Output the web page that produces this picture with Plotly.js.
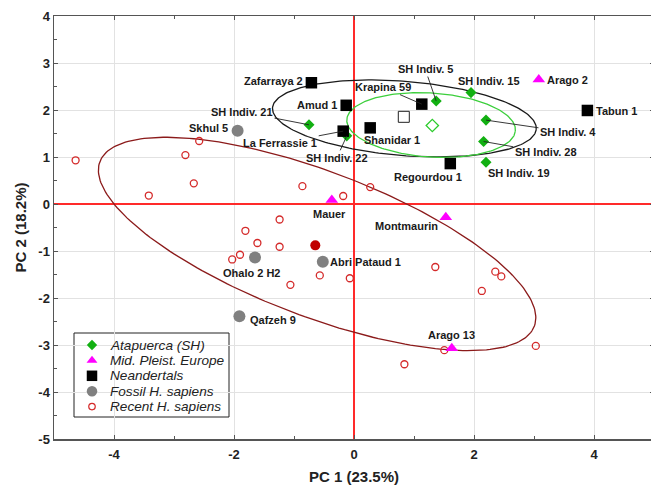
<!DOCTYPE html>
<html>
<head>
<meta charset="utf-8">
<script src="https://cdn.plot.ly/plotly-3.0.1.min.js"></script>
<style>
html,body{margin:0;padding:0;overflow:hidden;background:#fff;}
#chart{width:654px;height:485px;}
</style>
</head>
<body>
<div id="chart"></div>
<script>
// ---- data ----
const shNames = ['SH Indiv. 21','SH Indiv. 22','SH Indiv. 5','SH Indiv. 15','SH Indiv. 4','SH Indiv. 28','SH Indiv. 19'];
const shX = [-0.75, -0.12, 1.37, 1.95, 2.20, 2.16, 2.20];
const shY = [1.685, 1.45, 2.19, 2.37, 1.785, 1.33, 0.89];

const mpeNames = ['Arago 2','Mauer','Montmaurin','Arago 13'];
const mpeX = [3.08, -0.37, 1.53, 1.63];
const mpeY = [2.65, 0.085, -0.28, -3.07];

const neaNames = ['Zafarraya 2','Amud 1','La Ferrassie 1','Shanidar 1','Krapina 59','Regourdou 1','Tabun 1'];
const neaX = [-0.71, -0.13, -0.18, 0.27, 1.13, 1.605, 3.89];
const neaY = [2.58, 2.10, 1.55, 1.62, 2.125, 0.86, 1.99];

const fosNames = ['Skhul 5','Ohalo 2 H2','Abri Pataud 1','Qafzeh 9'];
const fosX = [-1.94, -1.65, -0.52, -1.91];
const fosY = [1.56, -1.14, -1.23, -2.39];

const recX = [-4.64, -3.42, -2.81, -2.67, -2.58, -0.86, -0.18, 0.27, -1.81, -1.24, -1.61, -1.24, -2.03, -1.90, -1.06, -0.57, -0.07, 1.355, 2.355, 2.455, 2.13, 1.505, 3.03, 0.84];
const recY = [0.93, 0.18, 1.04, 0.44, 1.34, 0.38, 0.17, 0.36, -0.57, -0.33, -0.83, -0.91, -1.18, -1.08, -1.72, -1.52, -1.58, -1.34, -1.44, -1.54, -1.85, -3.11, -3.02, -3.41];

// group centroids
const shCentroidX = [1.305], shCentroidY = [1.67];
const neaCentroidX = [0.83], neaCentroidY = [1.855];
const recCentroidX = [-0.645], recCentroidY = [-0.88];

// confidence ellipses: Neandertals, Atapuerca (SH), Recent H. sapiens
const ellCx = [0.84, 1.285, -0.615];
const ellCy = [1.82, 1.68, -0.85];
const ellA = [2.21, 1.41, 4.03];
const ellB = [0.788, 0.68, 1.483];
const ellAngle = [-6.25, -5.3, -27.3];

const legendLabels = ['Atapuerca (SH)', 'Mid. Pleist. Europe', 'Neandertals', 'Fossil H. sapiens', 'Recent H. sapiens'];

const xTicks = [-4, -2, 0, 2, 4];
const yTicks = [4, 3, 2, 1, 0, -1, -2, -3, -4, -5];

// ---- styles / placement ----
const ellColors = ['#1a1a1a', '#3ccf3c', '#8b1a1a'];
const labelPlace = {
  'Zafarraya 2':[-38,-2,false], 'Amud 1':[-29,0,false], 'SH Indiv. 21':[-67,-13,true],
  'La Ferrassie 1':[-63,12,true], 'SH Indiv. 22':[-10,22,true], 'Krapina 59':[-39,-17,true],
  'Shanidar 1':[22,12,false], 'SH Indiv. 5':[-11,-32,true], 'SH Indiv. 15':[18,-12,false],
  'Arago 2':[29,1,false], 'Tabun 1':[29,1,false], 'SH Indiv. 4':[82,12,true],
  'SH Indiv. 28':[62,11,true], 'SH Indiv. 19':[33,11,false], 'Regourdou 1':[-22,13,false],
  'Skhul 5':[-29,-3,false], 'Mauer':[-2,14,false], 'Montmaurin':[-39,9,false],
  'Ohalo 2 H2':[-4,15,false], 'Abri Pataud 1':[43,0,false], 'Qafzeh 9':[34,4,false],
  'Arago 13':[0,-13,false]
};
const legendSymbols = ['diamond', 'triangle-up', 'square', 'circle', 'circle-open'];
const legendColors = ['#12b012', '#ff00ff', '#000000', '#808080', '#d42a2a'];
const legendSizes = [8, 9.5, 10.5, 10.5, 6.5];
// legend box in page pixels
const LG = {left: 74, top: 333, width: 155, height: 84, firstRow: 345, rowH: 15.4, symX: 92, textX: 108};
const PLOT = {l: 54, t: 16, w: 600, h: 423};

const FONT = 'Liberation Sans, Arial, sans-serif';
const traces = [];

// ellipses
for (let k = 0; k < ellCx.length; k++) {
  const ex = [], ey = [];
  const th = ellAngle[k] * Math.PI / 180;
  for (let i = 0; i <= 240; i++) {
    const t = 2 * Math.PI * i / 240;
    ex.push(ellCx[k] + ellA[k] * Math.cos(th) * Math.cos(t) - ellB[k] * Math.sin(th) * Math.sin(t));
    ey.push(ellCy[k] + ellA[k] * Math.sin(th) * Math.cos(t) + ellB[k] * Math.cos(th) * Math.sin(t));
  }
  traces.push({x: ex, y: ey, mode: 'lines', line: {color: ellColors[k], width: 1.3}, showlegend: false, hoverinfo: 'skip'});
}

// points
traces.push({x: recX, y: recY, mode: 'markers', name: 'Recent H. sapiens', showlegend: false,
  marker: {symbol: 'circle-open', size: 7, color: '#d42a2a', line: {width: 1.3}}});
traces.push({x: recCentroidX, y: recCentroidY, mode: 'markers', showlegend: false,
  marker: {symbol: 'circle', size: 10, color: '#c00000'}});
traces.push({x: fosX, y: fosY, mode: 'markers', name: 'Fossil H. sapiens', showlegend: false,
  marker: {symbol: 'circle', size: 12, color: '#808080'}});
traces.push({x: shX, y: shY, mode: 'markers', name: 'Atapuerca (SH)', showlegend: false,
  marker: {symbol: 'diamond', size: 8.5, color: '#12b012'}});
traces.push({x: shCentroidX, y: shCentroidY, mode: 'markers', showlegend: false,
  marker: {symbol: 'diamond-open', size: 9.5, color: '#2ccc2c', line: {width: 1.3}}});
traces.push({x: mpeX, y: mpeY, mode: 'markers', name: 'Mid. Pleist. Europe', showlegend: false,
  marker: {symbol: 'triangle-up', size: 11, color: '#ff00ff'}});
traces.push({x: neaX, y: neaY, mode: 'markers', name: 'Neandertals', showlegend: false,
  marker: {symbol: 'square', size: 11.5, color: '#000000'}});
traces.push({x: neaCentroidX, y: neaCentroidY, mode: 'markers', showlegend: false,
  marker: {symbol: 'square-open', size: 11, color: '#222', line: {width: 1}}});

// labels
const annotations = [];
function addLabels(names, xs, ys) {
  names.forEach((n, i) => {
    const p = labelPlace[n];
    annotations.push({x: xs[i], y: ys[i], xref: 'x', yref: 'y', text: n,
      showarrow: true, ax: p[0], ay: p[1], arrowhead: 0, arrowwidth: 0.9, standoff: 0,
      arrowcolor: p[2] ? '#222' : 'rgba(0,0,0,0)',
      font: {family: FONT, size: 11, color: '#1a1a1a', weight: 'bold'}});
  });
}
addLabels(shNames, shX, shY);
addLabels(mpeNames, mpeX, mpeY);
addLabels(neaNames, neaX, neaY);
addLabels(fosNames, fosX, fosY);

// custom legend (pixel-space overlay axes)
const px2x = v => (v - PLOT.l) / PLOT.w;
const py2y = v => (PLOT.t + PLOT.h - v) / PLOT.h;
const shapes = [{type: 'rect', xref: 'paper', yref: 'paper',
  x0: px2x(LG.left), x1: px2x(LG.left + LG.width), y0: py2y(LG.top + LG.height), y1: py2y(LG.top),
  line: {color: '#222', width: 1}, fillcolor: '#fff', layer: 'between'}];
legendLabels.forEach((lab, i) => {
  const rowY = LG.firstRow + i * LG.rowH;
  traces.push({x: [LG.symX], y: [rowY], xaxis: 'x2', yaxis: 'y2', mode: 'markers', showlegend: false,
    hoverinfo: 'skip',
    marker: {symbol: legendSymbols[i], size: legendSizes[i], color: legendColors[i],
      line: legendSymbols[i] === 'circle-open' ? {width: 1.2} : {width: 0}}});
  annotations.push({xref: 'paper', yref: 'paper', x: px2x(LG.textX), y: py2y(rowY), xanchor: 'left',
    yanchor: 'middle', showarrow: false, text: lab,
    font: {family: FONT, size: 13.6, style: 'italic', color: '#222'}});
});

const layout = {
  width: 654, height: 485,
  margin: {l: PLOT.l, r: 0, t: PLOT.t, b: 46},
  paper_bgcolor: '#fff', plot_bgcolor: '#fff',
  font: {family: FONT, color: '#222'},
  showlegend: false,
  xaxis: {range: [-5, 5], tickvals: xTicks, ticktext: xTicks.map(String),
    showgrid: true, gridcolor: '#e2e2e2', gridwidth: 1,
    zeroline: true, zerolinecolor: '#ff2a2a', zerolinewidth: 1.5,
    showline: true, linecolor: '#555', linewidth: 1.5, mirror: 'ticks',
    ticks: 'inside', ticklen: 4, tickcolor: '#555', ticklabelstandoff: 3,
    minor: {dtick: 1, ticks: 'inside', ticklen: 3, tickcolor: '#555', showgrid: false},
    tickfont: {family: FONT, size: 13, weight: 'bold', color: '#222'},
    title: {text: 'PC 1 (23.5%)', font: {family: FONT, size: 15, weight: 'bold', color: '#222'}, standoff: 11}},
  yaxis: {range: [-5, 4], tickvals: yTicks, ticktext: yTicks.map(String),
    showgrid: true, gridcolor: '#e2e2e2', gridwidth: 1,
    zeroline: true, zerolinecolor: '#ff2a2a', zerolinewidth: 1.5,
    showline: true, linecolor: '#555', linewidth: 1.5, mirror: 'ticks',
    ticks: 'inside', ticklen: 4, tickcolor: '#555',
    minor: {dtick: 0.5, ticks: 'inside', ticklen: 3, tickcolor: '#555', showgrid: false},
    tickfont: {family: FONT, size: 13, weight: 'bold', color: '#222'},
    title: {text: 'PC 2 (18.2%)', font: {family: FONT, size: 15, weight: 'bold', color: '#222'}, standoff: 8}},
  xaxis2: {overlaying: 'x', range: [PLOT.l, PLOT.l + PLOT.w], visible: false, fixedrange: true},
  yaxis2: {overlaying: 'y', range: [PLOT.t + PLOT.h, PLOT.t], visible: false, fixedrange: true},
  shapes: shapes,
  annotations: annotations
};

Plotly.newPlot('chart', traces, layout, {displayModeBar: false, staticPlot: true});
</script>
</body>
</html>
